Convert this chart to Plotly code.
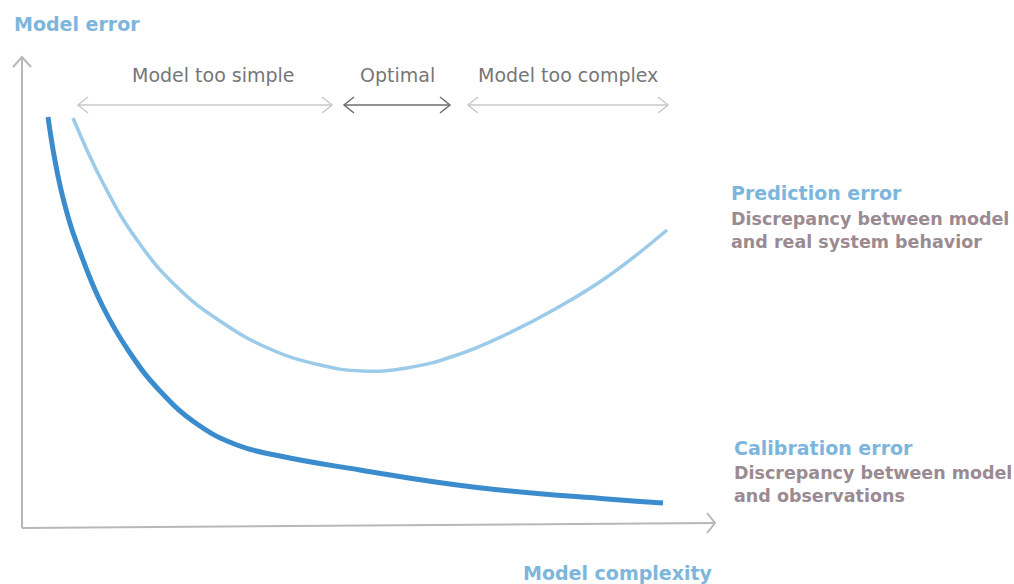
import plotly.graph_objects as go

# data units: 1 unit ~ 10 px, origin at the axis corner
calib_x = [2.6, 4.1, 6.1, 8.1, 10.8, 13.8, 17.5, 21.5, 25.8, 33.8, 45.1, 58.5, 64.1]
calib_y = [41.0, 32.9, 26.7, 22.0, 17.4, 13.6, 10.3, 8.2, 7.1, 5.7, 4.0, 2.8, 2.4]

pred_x = [5.1, 8.1, 11.5, 15.5, 19.8, 24.8, 29.8, 34.0, 38.5, 43.5, 48.5, 53.5, 58.5, 64.5]
pred_y = [40.9, 34.4, 28.7, 24.0, 20.6, 17.8, 16.2, 15.6, 15.9, 17.2, 19.3, 21.9, 25.0, 29.7]

region_names = ["Model too simple", "Optimal", "Model too complex"]
region_label_x = [19.1, 37.5, 54.6]
region_start = [5.6, 32.2, 44.6]
region_end = [31.0, 42.8, 64.6]
region_colors = ["#c9c9c9", "#6e6e6e", "#c9c9c9"]

AXIS_COL = "#b8b8b8"
BLUE_DARK = "#3b8ccd"
BLUE_LIGHT = "#9ccbea"
TITLE_BLUE = "#7db6dc"
MAUVE = "#9b8a91"
FONT = "DejaVu Sans"

fig = go.Figure()

fig.add_trace(go.Scatter(x=pred_x, y=pred_y, mode="lines",
                         line=dict(color=BLUE_LIGHT, width=3.5, shape="spline", smoothing=1.3)))
fig.add_trace(go.Scatter(x=calib_x, y=calib_y, mode="lines",
                         line=dict(color=BLUE_DARK, width=5, shape="spline", smoothing=1.3)))

shapes = []


def chevron(x, y, direction, color, w=1.0, h=0.8, width=1.5):
    # open chevron head; direction: 'l', 'r', 'u'
    if direction == "r":
        p = f"M {x-w} {y+h} L {x} {y} L {x-w} {y-h}"
    elif direction == "l":
        p = f"M {x+w} {y+h} L {x} {y} L {x+w} {y-h}"
    else:
        p = f"M {x-h} {y-w} L {x} {y} L {x+h} {y-w}"
    return dict(type="path", path=p, line=dict(color=color, width=width), xref="x", yref="y")


# axes
shapes.append(dict(type="line", x0=0, y0=-0.1, x1=0, y1=47.0, line=dict(color=AXIS_COL, width=2)))
shapes.append(chevron(0, 47.0, "u", AXIS_COL, w=1.0, h=0.9, width=2))
shapes.append(dict(type="line", x0=0, y0=-0.1, x1=69.3, y1=0.4, line=dict(color=AXIS_COL, width=2)))
shapes.append(chevron(69.3, 0.4, "r", AXIS_COL, w=0.8, h=1.0, width=2))

# region arrows
arrow_y = 42.2
for s, e, c in zip(region_start, region_end, region_colors):
    shapes.append(dict(type="line", x0=s, y0=arrow_y, x1=e, y1=arrow_y, line=dict(color=c, width=1.5)))
    shapes.append(chevron(s, arrow_y, "l", c))
    shapes.append(chevron(e, arrow_y, "r", c))

annotations = []
for name, lx in zip(region_names, region_label_x):
    annotations.append(dict(x=lx, y=45.2, text=name, showarrow=False,
                            font=dict(family=FONT, size=19, color="#767676")))

annotations += [
    dict(x=-1.0, y=50.3, text="<b>Model error</b>", xanchor="left", showarrow=False,
         font=dict(family=FONT, size=19, color=TITLE_BLUE)),
    dict(x=69.3, y=-4.55, text="<b>Model complexity</b>", xanchor="right", showarrow=False,
         font=dict(family=FONT, size=19, color=TITLE_BLUE)),
    dict(x=70.7, y=33.4, text="<b>Prediction error</b>", xanchor="left", showarrow=False,
         font=dict(family=FONT, size=19, color=TITLE_BLUE)),
    dict(x=70.7, y=29.7, text="<b>Discrepancy between model<br>and real system behavior</b>",
         xanchor="left", yanchor="middle", align="left", showarrow=False,
         font=dict(family=FONT, size=17.5, color=MAUVE)),
    dict(x=71.0, y=7.9, text="<b>Calibration error</b>", xanchor="left", showarrow=False,
         font=dict(family=FONT, size=19, color=TITLE_BLUE)),
    dict(x=71.0, y=4.3, text="<b>Discrepancy between model<br>and observations</b>",
         xanchor="left", yanchor="middle", align="left", showarrow=False,
         font=dict(family=FONT, size=17.5, color=MAUVE)),
]

fig.update_layout(
    width=1014, height=584,
    margin=dict(l=0, r=0, t=0, b=0),
    paper_bgcolor="white", plot_bgcolor="white",
    showlegend=False,
    xaxis=dict(range=[-2.2, 99.2], visible=False, fixedrange=True),
    yaxis=dict(range=[-5.7, 52.7], visible=False, fixedrange=True),
    shapes=shapes,
    annotations=annotations,
)

fig.write_html("out.html", config={"displayModeBar": False},
               post_script="document.body.style.margin='0';")
